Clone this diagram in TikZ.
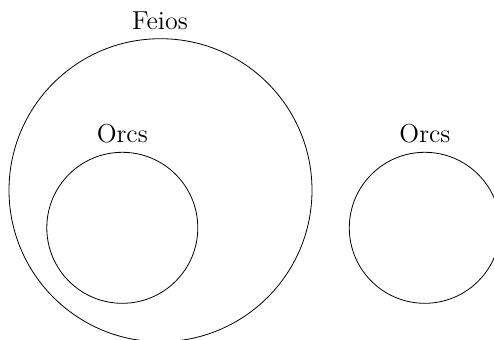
\documentclass[tikz,border=0pt]{standalone}
\begin{document}
\begin{tikzpicture}[x=0.5pt,y=-0.5pt,
  setc/.style={circle,draw,line width=0.4pt,inner sep=0pt},
  lbl/.style={anchor=base,inner sep=0pt,font=\fontsize{13}{15}\selectfont}]
\useasboundingbox (0,0) rectangle (494,339);
\clip (0,0) rectangle (494,339);
\node (feios) [setc,minimum size=151.5pt] at (160.5,190.2) {};
\node (orcsA) [setc,minimum size=75.5pt] at (122.3,227.8) {};
\node (orcsB) [setc,minimum size=75.5pt] at (424.8,227.8) {};
\node (feiosL) [lbl] at (160,29) {Feios};
\node (orcsAL) [lbl] at (122.3,142.5) {Orcs};
\node (orcsBL) [lbl] at (425,142.5) {Orcs};
\end{tikzpicture}
\end{document}
